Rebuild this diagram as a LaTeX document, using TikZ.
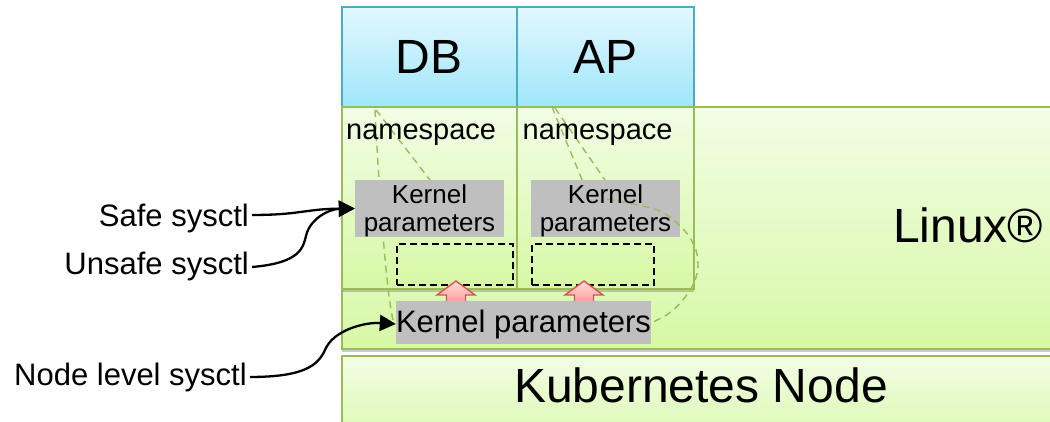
\documentclass[tikz,border=0pt]{standalone}
\usepackage{fontspec}
\setmainfont{Liberation Sans}
\usetikzlibrary{arrows.meta,shadows}
\definecolor{grtop}{HTML}{F2FDE5}
\definecolor{grbot}{HTML}{D7F8A6}
\definecolor{grborder}{HTML}{9BBB59}
\definecolor{bltop}{HTML}{E3F8FF}
\definecolor{blbot}{HTML}{9FE6FA}
\definecolor{blborder}{HTML}{4BACC6}
\definecolor{kpgray}{HTML}{BFBFBF}
\definecolor{rdtop}{HTML}{FFDCDC}
\definecolor{rdbot}{HTML}{FF8F8F}
\definecolor{rdborder}{HTML}{D9534F}
\newcommand{\blockup}[1]{\path[redarrow] (#1,281) -- ++(19,14) -- ++(-9.5,0) -- ++(0,12) -- ++(-19,0) -- ++(0,-12) -- ++(-9.5,0) -- cycle;}
\begin{document}
\begin{tikzpicture}[x=1pt,y=-1pt,
  greenbox/.style={draw=grborder, line width=2pt, top color=grtop, bottom color=grbot, inner sep=0pt, anchor=north west},
  bluebox/.style={draw=blborder, line width=1.6pt, top color=bltop, bottom color=blbot, inner sep=0pt, anchor=north west, font=\fontsize{48}{56}\selectfont},
  shad/.style={drop shadow={shadow xshift=0pt, shadow yshift=-3pt, opacity=0.35, fill=black!60}},
  graybox/.style={fill=kpgray, inner sep=0pt},
  slot/.style={draw=black, dash pattern=on 7pt off 4pt, line width=1.7pt, inner sep=0pt, anchor=north west},
  gdash/.style={draw=grborder, line width=1.4pt, dash pattern=on 7pt off 5pt},
  redarrow/.style={draw=rdborder, line width=1.4pt, top color=rdtop, bottom color=rdbot},
  conn/.style={draw=black, line width=2.3pt, -{Triangle[length=16pt,width=16pt]}},
  lbl/.style={font=\fontsize{31}{36}\selectfont, inner xsep=3pt, inner ysep=0pt, anchor=base east},
  txt/.style={inner sep=0pt}
]
\useasboundingbox (0,0) rectangle (1050,422);
\clip (0,0) rectangle (1050,422);

% base layers
\node[greenbox, shad, minimum width=719pt, minimum height=100pt] (k8s) at (341,355) {};
\node[greenbox, shad, minimum width=719pt, minimum height=242pt] (linux) at (341,106) {};

% containers
\node[bluebox, minimum width=175pt, minimum height=100pt] (db) at (341,6) {DB};
\node[bluebox, minimum width=177pt, minimum height=100pt] (ap) at (516,6) {AP};

% namespaces
\node[greenbox, shad, minimum width=175pt, minimum height=182pt] (nsdb) at (341,106) {};
\node[greenbox, shad, minimum width=177pt, minimum height=182pt] (nsap) at (516,106) {};

% green dashed funnels (behind gray boxes)
\draw[gdash] (375,110) .. controls (379,190) and (386,290) .. (393,320);
\draw[gdash] (376,110) -- (430,180);
\draw[gdash] (552,107) -- (583,182);
\draw[gdash] (555,108) -- (605,180);

% namespace kernel parameters
\node[graybox, minimum width=149pt, minimum height=57pt] (kpdb) at (429.5,208.5) {};
\node[graybox, minimum width=149pt, minimum height=57pt] (kpap) at (605.5,208.5) {};

\draw[gdash] plot[smooth, tension=0.6] coordinates {(607,199) (657,210) (681,227) (694,245) (698,264) (694,283) (682,301) (668,314) (653,322)};

\node[txt, align=center, font=\fontsize{26}{28}\selectfont, yshift=-2pt] (kpdbt) at (kpdb) {Kernel\\parameters};
\node[txt, align=center, font=\fontsize{26}{28}\selectfont, yshift=-2pt] (kpapt) at (kpap) {Kernel\\parameters};

% dashed slots
\node[slot, minimum width=116pt, minimum height=41pt] (dbslot) at (396,243) {};
\node[slot, minimum width=122pt, minimum height=41pt] (apslot) at (531,243) {};

% red block arrows
\blockup{456}
\blockup{584}

% node kernel parameters
\node[graybox, minimum width=255pt, minimum height=43pt] (kpnode) at (523.5,322.5) {};
\node[txt, font=\fontsize{31}{36}\selectfont, yshift=-1.5pt] (kpnodet) at (kpnode) {Kernel parameters};

% texts
\node[txt, anchor=base west, font=\fontsize{29}{34}\selectfont] (nsdbt) at (346,140) {namespace};
\node[txt, anchor=base west, font=\fontsize{29}{34}\selectfont] (nsapt) at (522.5,140) {namespace};
\node[txt, anchor=base west, font=\fontsize{48}{56}\selectfont] (linuxt) at (893,243) {Linux®};
\node[txt, anchor=base, font=\fontsize{48}{56}\selectfont] (k8st) at (701,402) {Kubernetes Node};

% left labels
\node[lbl] (safe) at (252,227) {Safe sysctl};
\node[lbl] (unsafe) at (252,275) {Unsafe sysctl};
\node[lbl] (nodelvl) at (250,385) {Node level sysctl};

\draw[conn] ([yshift=4pt]safe.east) .. controls (300,215) and (305,209) .. (kpdb.west);
\draw[conn] (unsafe.east) .. controls (300,263) and (303,248) .. (306,236) .. controls (310,218) and (330,209) .. (kpdb.west);
\draw[conn] (nodelvl.east) .. controls (305,377) and (318,365) .. (325,350) .. controls (333,330) and (365,322) .. (kpnodet.west);
\end{tikzpicture}
\end{document}
